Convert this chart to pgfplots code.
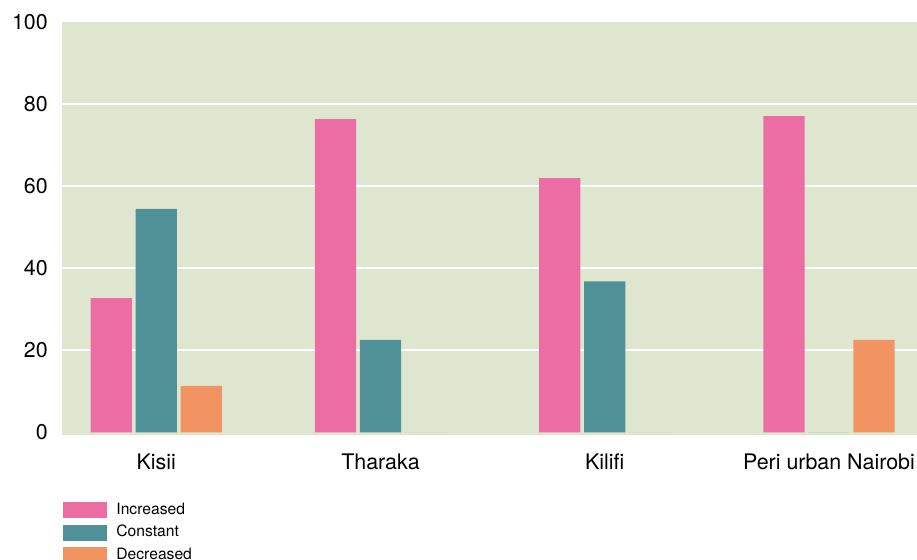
\documentclass[border=0pt]{standalone}
\usepackage{fontspec}
\setmainfont{TeX Gyre Heros}
\usepackage{pgfplots}
\pgfplotsset{compat=1.18}

\definecolor{incr}{RGB}{236,108,164}
\definecolor{const}{RGB}{80,145,152}
\definecolor{decr}{RGB}{241,148,98}
\definecolor{bgc}{RGB}{223,230,208}

\pgfplotsset{
  swatch/.style={legend image code/.code={%
    \fill[##1] (0bp,-8bp) rectangle (44bp,8bp);}},
}

\begin{document}
\begin{tikzpicture}
\begin{axis}[
  name=ax,
  scale only axis,
  width=855bp, height=413bp,
  xmin=-0.4216, xmax=3.3925,
  ymin=-0.6, ymax=100,
  ybar,
  bar width=0.183,
  axis background/.style={fill=bgc},
  axis line style={draw=none},
  tick style={draw=none},
  ytick={20,40,...,100},
  extra y ticks={0},
  extra y tick style={grid=none},
  ymajorgrids,
  grid style={white, line width=1.5bp},
  xtick={0,1,2,3},
  xticklabels={Kisii, Tharaka, Kilifi, Peri urban Nairobi},
  /pgf/number format/assume math mode=true,
  ticklabel style={font=\fontsize{21.5}{25}\selectfont},
  xticklabel style={text height=15.5bp, inner sep=0pt, anchor=north, yshift=-14.3bp},
  yticklabel style={inner sep=0pt, anchor=east, xshift=-13.7bp},
  legend style={at={(0,0)}, anchor=north west, xshift=-2bp, yshift=-65bp,
    draw=none, fill=none, font=\fontsize{15.7}{18}\selectfont,
    row sep=6.5bp,
    nodes={inner sep=0pt, anchor=west, text height=11.3bp, text depth=3bp},
    /tikz/every odd column/.append style={column sep=9.5bp}},
  legend cell align=left,
]
\addplot[fill=incr, draw=none, bar shift=-0.2007, swatch]
  coordinates {(0,32.7) (1,76.3) (2,61.9) (3,77.0)};
\addplot[fill=const, draw=none, bar shift=0, swatch]
  coordinates {(0,54.4) (1,22.5) (2,36.8) (3,0)};
\addplot[fill=decr, draw=none, bar shift=0.2007, swatch]
  coordinates {(0,11.3) (1,0) (2,0) (3,22.5)};
\legend{Increased, Constant, Decreased}
\end{axis}
\pgfresetboundingbox
\path ([xshift=-61.7bp, yshift=-124.3bp]ax.south west) rectangle ([yshift=21.7bp]ax.north east);
\end{tikzpicture}
\end{document}
